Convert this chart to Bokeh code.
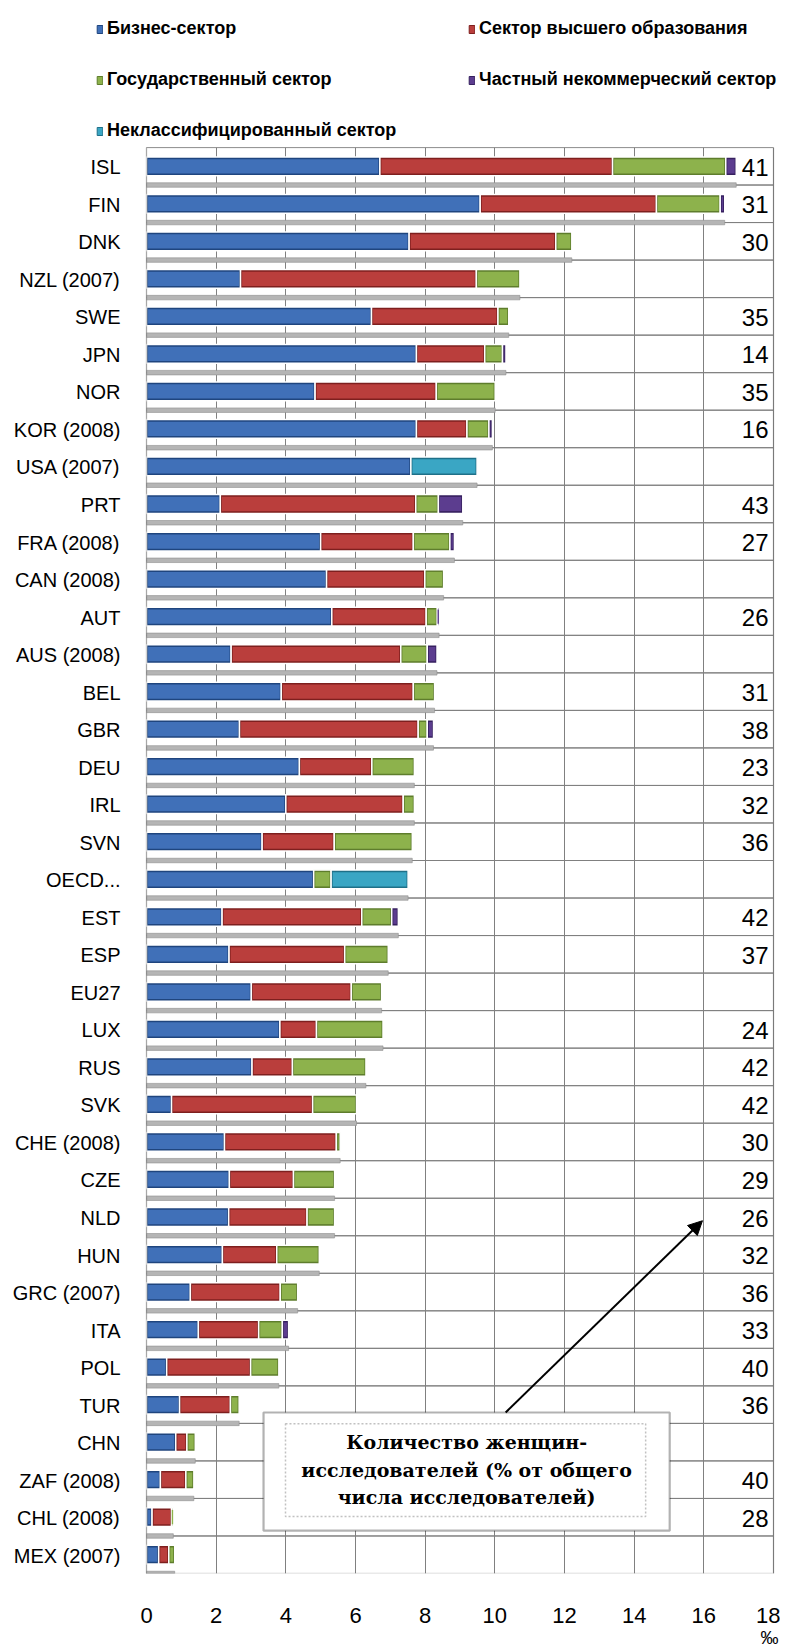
import numpy as np
from bokeh.plotting import figure
from bokeh.layouts import column
from bokeh.models import (ColumnDataSource, FactorRange, Range1d, FixedTicker, Legend,
                          LegendItem, BoxAnnotation, Label, Arrow, NormalHead, LinearAxis)
from bokeh.transform import dodge
from bokeh.core.properties import value
from bokeh.embed import file_html
from bokeh.resources import INLINE

# ---------------- data ----------------
categories = ["ISL", "FIN", "DNK", "NZL (2007)", "SWE", "JPN", "NOR", "KOR (2008)",
              "USA (2007)", "PRT", "FRA (2008)", "CAN (2008)", "AUT", "AUS (2008)", "BEL",
              "GBR", "DEU", "IRL", "SVN", "OECD...", "EST", "ESP", "EU27", "LUX", "RUS",
              "SVK", "CHE (2008)", "CZE", "NLD", "HUN", "GRC (2007)", "ITA", "POL", "TUR",
              "CHN", "ZAF (2008)", "CHL (2008)", "MEX (2007)"]

business = [6.70, 9.58, 7.54, 2.70, 6.46, 7.75, 4.84, 7.75, 7.59, 2.12, 5.00, 5.17, 5.32,
            2.43, 3.87, 2.67, 4.39, 4.00, 3.32, 4.80, 2.17, 2.37, 3.01, 3.83, 3.03, 0.72,
            2.24, 2.38, 2.36, 2.18, 1.26, 1.49, 0.58, 0.95, 0.84, 0.40, 0.16, 0.35]
higher_ed = [6.68, 5.06, 4.21, 6.77, 3.63, 1.96, 3.48, 1.45, 0.00, 5.61, 2.66, 2.82, 2.71,
             4.87, 3.79, 5.13, 2.08, 3.37, 2.07, 0.00, 4.01, 3.32, 2.87, 1.05, 1.16, 4.05,
             3.21, 1.84, 2.25, 1.56, 2.58, 1.73, 2.41, 1.46, 0.32, 0.73, 0.56, 0.29]
government = [3.25, 1.83, 0.46, 1.25, 0.31, 0.51, 1.69, 0.63, 0.00, 0.65, 1.05, 0.54, 0.32,
              0.76, 0.61, 0.26, 1.22, 0.32, 2.24, 0.50, 0.86, 1.25, 0.87, 1.91, 2.11, 1.26,
              0.11, 1.18, 0.79, 1.22, 0.50, 0.68, 0.81, 0.25, 0.24, 0.23, 0.05, 0.17]
private_np = [0.30, 0.13, 0.00, 0.00, 0.00, 0.10, 0.00, 0.10, 0.00, 0.70, 0.13, 0.00, 0.05,
              0.28, 0.00, 0.18, 0.00, 0.00, 0.00, 0.00, 0.19, 0.00, 0.00, 0.00, 0.00, 0.00,
              0.00, 0.00, 0.00, 0.00, 0.00, 0.18, 0.00, 0.00, 0.00, 0.00, 0.00, 0.00]
unclassified = [0.00, 0.00, 0.00, 0.00, 0.00, 0.00, 0.00, 0.00, 1.90, 0.00, 0.00, 0.00, 0.00,
                0.00, 0.00, 0.00, 0.00, 0.00, 0.00, 2.21, 0.00, 0.00, 0.00, 0.00, 0.00, 0.00,
                0.00, 0.00, 0.00, 0.00, 0.00, 0.00, 0.00, 0.00, 0.00, 0.00, 0.00, 0.00]
women_share = [41, 31, 30, None, 35, 14, 35, 16, None, 43, 27, None, 26, None, 31, 38, 23,
               32, 36, None, 42, 37, None, 24, 42, 42, 30, 29, 26, 32, 36, 33, 40, 36, None,
               40, 28, None]

series_names = ["Бизнес-сектор", "Сектор высшего образования", "Государственный сектор",
                "Частный некоммерческий сектор", "Неклассифицированный сектор"]
x_ticks = [0, 2, 4, 6, 8, 10, 12, 14, 16, 18]
note_lines = ["Количество женщин-", "исследователей (% от общего", "числа исследователей)"]
unit_label = "‰"

# ---------------- styles ----------------
main_colors = ["#4070B8", "#BA3E3C", "#8DB24C", "#5C3D8F", "#3AA6C4"]
dark_colors = ["#1F457E", "#7E1F1E", "#5E7D2C", "#36205F", "#1F7088"]
GRID = "#808080"
SANS = "Liberation Sans"
WIDTH, HEIGHT, LEG_H = 780, 1650, 147
FRAME_L, FRAME_R = 146, 773

series = np.array([business, higher_ed, government, private_np, unclassified], dtype=float)
cum = np.cumsum(series, axis=0)
lefts = np.vstack([np.zeros(series.shape[1]), cum[:-1]])
keys = ["bus", "hed", "gov", "pnp", "unc"]

data = {"cat": categories, "total": cum[-1],
        "women": ["" if w is None else str(w) for w in women_share]}
for i, k in enumerate(keys):
    mask = series[i] > 0
    data[k + "_l"] = np.where(mask, lefts[i], np.nan)
    data[k + "_r"] = np.where(mask, cum[i], np.nan)
src = ColumnDataSource(data)

# ---------------- legend strip (top) ----------------
lf = figure(width=WIDTH, height=LEG_H, x_range=Range1d(0, WIDTH), y_range=Range1d(0, LEG_H),
            x_axis_location=None, y_axis_location=None, output_backend="svg",
            toolbar_location=None, min_border=0, min_border_left=0, min_border_right=0,
            min_border_top=0, min_border_bottom=0)
lf.grid.visible = False
lf.outline_line_color = None
lf.background_fill_color = "white"
lf.border_fill_color = "white"
leg_renderers = []
for i in range(len(series_names)):
    # legend swatches only: the single bar lies outside the visible range
    leg_renderers.append(lf.hbar(y=[-500], left=[0], right=[1], height=1,
                                 fill_color=main_colors[i], line_color=dark_colors[i],
                                 line_width=1))
legend = Legend(items=[LegendItem(label=n, renderers=[r])
                       for n, r in zip(series_names, leg_renderers)],
                location=(96, 6), orientation="horizontal", ncols=2,
                glyph_width=7, glyph_height=10, label_standoff=4, label_width=331,
                label_height=20, spacing=30, padding=0, margin=0,
                border_line_color=None, background_fill_alpha=0,
                label_text_font=SANS, label_text_font_style="bold",
                label_text_font_size="18px", label_text_color="black")
lf.add_layout(legend)

# ---------------- main chart ----------------
px_per_unit = (FRAME_R - FRAME_L) / 18.0
p = figure(width=WIDTH, height=HEIGHT - LEG_H,
           y_range=FactorRange(factors=list(reversed(categories))),
           x_range=Range1d(-FRAME_L / px_per_unit, 18 + (WIDTH - FRAME_R) / px_per_unit),
           y_axis_location=None,
           output_backend="svg", toolbar_location=None,
           min_border_left=0, min_border_right=0, min_border_top=0,
           min_border_bottom=HEIGHT - LEG_H - 1427)
p.background_fill_color = "white"
p.border_fill_color = "white"
p.outline_line_color = None

xax = p.below[0]
xax.ticker = FixedTicker(ticks=x_ticks)
xax.axis_line_color = None
xax.major_tick_line_color = None
xax.minor_tick_line_color = None
xax.major_label_standoff = 28
xax.major_label_text_font = SANS
xax.major_label_text_font_size = "22px"
xax.major_label_text_color = "black"

p.xgrid.ticker = FixedTicker(ticks=x_ticks)
p.xgrid.grid_line_color = GRID
p.xgrid.grid_line_width = 1
p.ygrid.grid_line_color = None

# unit sign under the last tick
unit_axis = LinearAxis(ticker=FixedTicker(ticks=[x_ticks[-1]]),
                       major_label_overrides={x_ticks[-1]: unit_label},
                       axis_line_color=None, major_tick_line_color=None,
                       minor_tick_line_color=None, major_label_standoff=-4,
                       major_label_text_font=SANS, major_label_text_font_size="18px",
                       major_label_text_color="black")
p.add_layout(unit_axis, "below")

# white out the label area so the vertical grid does not show there
p.hbar(y="cat", left=x_ticks[0] - 10, right=x_ticks[0], height=1.0,
       fill_color="white", line_color=None, source=src)

# row separators (zero-height bars drawn as lines at row boundaries)
p.hbar(y=dodge("cat", 0.5, range=p.y_range), left=x_ticks[0], right=x_ticks[-1], height=0.0,
       fill_color=None, line_color=GRID, line_width=1, source=src)

# 3D floor under each bar
p.hbar(y=dodge("cat", -0.5, range=p.y_range), left=0, right="total", height=0.12,
       fill_color="#B5B5B5", line_color="#8F8F8F", line_width=0.6, source=src)

for i, k in enumerate(keys):
    p.hbar(y="cat", left=k + "_l", right=k + "_r", height=0.5,
           fill_color=dark_colors[i], line_color="white", line_width=1.5, source=src)
    p.hbar(y="cat", left=dodge(k + "_l", 0.045), right=dodge(k + "_r", -0.045),
           height=0.38, fill_color=main_colors[i], line_color=None, source=src)

# category labels (left of the plot area)
p.text(x=0, y="cat", text="cat", x_offset=-26, y_offset=1, text_align="right",
       text_baseline="middle", text_font=value(SANS), text_font_size=value("20px"),
       text_color="black", source=src)

# women researchers share on the right
p.text(x=18, y="cat", text="women", x_offset=-5, y_offset=1, text_align="right",
       text_baseline="middle", text_font=value(SANS), text_font_size=value("24px"),
       text_color="black", source=src)

# plot-area border
p.add_layout(BoxAnnotation(left=x_ticks[0], right=x_ticks[-1], bottom=0, top=len(categories),
                           fill_alpha=0.0, line_color="#6E6E6E", line_width=1.5))

# annotation box with arrow
p.add_layout(BoxAnnotation(left=3.36, right=15.02, bottom=1.14, top=4.29,
                           fill_color="white", fill_alpha=1.0,
                           line_color="black", line_width=2.2))
p.add_layout(BoxAnnotation(left=3.99, right=14.33, bottom=1.52, top=3.99,
                           fill_alpha=0.0, line_color="#333333", line_width=1.5,
                           line_dash="2 2"))
for txt, yy in zip(note_lines, [3.51, 2.77, 2.05]):
    p.add_layout(Label(x=9.19, y=yy, text=txt, text_align="center", text_baseline="middle",
                       text_font="DejaVu Serif", text_font_style="bold",
                       text_font_size="19px", text_color="black"))
p.add_layout(Arrow(end=NormalHead(size=14, fill_color="black", line_color="black"),
                   x_start=10.31, y_start=4.29, x_end=15.96, y_end=9.40,
                   line_width=2, line_color="black"))

layout = column(lf, p, spacing=0)
open("out.html", "w").write(file_html(layout, INLINE))
